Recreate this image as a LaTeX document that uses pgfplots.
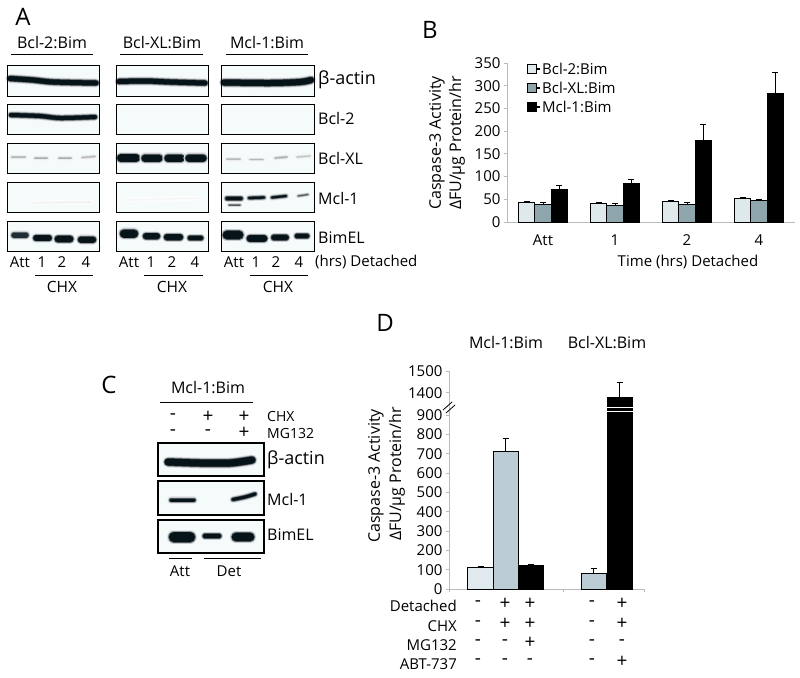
\documentclass[border=0pt]{standalone}
\usepackage{pgfplots}
\pgfplotsset{compat=1.18}
\usepackage{fontspec}
\setmainfont{Open Sans}
\definecolor{blot}{HTML}{06141A}
\definecolor{bg}{HTML}{F5FAFB}
\definecolor{bl}{HTML}{DFE9EC}
\definecolor{bm}{HTML}{8FA5AC}
\definecolor{dl}{HTML}{E0EAEE}
\definecolor{dm}{HTML}{BCCCD4}
\definecolor{ax}{HTML}{B8BCBC}
\newcommand\band[3]{%
 \addplot[forget plot,no marks,smooth,line cap=round,line width=#2pt+4.2pt,color=blot!#3!white!10] coordinates {#1};
 \addplot[forget plot,no marks,smooth,line cap=round,line width=#2pt+3pt,color=blot!#3!white!22] coordinates {#1};
 \addplot[forget plot,no marks,smooth,line cap=round,line width=#2pt+2pt,color=blot!#3!white!42] coordinates {#1};
 \addplot[forget plot,no marks,smooth,line cap=round,line width=#2pt+1pt,color=blot!#3!white!72] coordinates {#1};
 \addplot[forget plot,no marks,smooth,line cap=round,line width=#2pt,color=blot!#3!white] coordinates {#1};
}
\newcommand\fs[1]{\fontsize{#1}{#1}\selectfont}
\newcommand\T[4][15]{\node[inner sep=0pt,font=\fs{#1}] at (#2,#3) {#4};}
\newcommand\TL[4][15]{\node[inner sep=0pt,anchor=west,font=\fs{#1}] at (#2,#3) {#4};}
\newcommand\TR[4][15]{\node[inner sep=0pt,anchor=east,font=\fs{#1}] at (#2,#3) {#4};}
\newcommand\PM[3]{\node[inner sep=0pt,font=\fs{19}] at (#1,#2) {#3};}
\pgfplotsset{chart/.style={
  scale only axis,axis line style={-,ax,line width=0.8pt},tick style={ax,line width=0.8pt},
  tick align=outside,major tick length=3pt,minor tick length=3pt,
  /pgf/number format/assume math mode=true,
  tick label style={font=\fs{15}},
  every axis plot/.append style={line width=0.8pt,draw=black},
  /pgf/number format/1000 sep={},
  error bars/error bar style={black,line width=0.9pt},
  error bars/error mark options={rotate=90,mark size=3pt,black,line width=0.9pt},
}}
\begin{document}
\begin{tikzpicture}[x=1pt,y=-1pt]
\useasboundingbox (0,0) rectangle (800,677);
% blot backgrounds
\foreach \a/\b in {7/99,116/208,221/314}{\foreach \c/\d in {66/96,104/134,143/173,182/212,221/251}{\fill[bg] (\a,\c) rectangle (\b,\d);}}
\foreach \c/\d in {443/476,481/515,520/553}{\fill[bg] (158,\c) rectangle (264,\d);}
% bands
\begin{axis}[hide axis,scale only axis,width=800pt,height=677pt,at={(0pt,-677pt)},anchor=south west,
  xmin=0,xmax=800,ymin=0,ymax=677,y dir=reverse,clip=false]
% actin
\band{(10,78.5)(33,80)(53,82)(96,83)}{5}{100}
\band{(119,81.5)(145,81)(170,82)(205,83)}{5}{100}
\band{(224,82.5)(270,83)(300,82)(311,80)}{6}{100}
% Bcl-2
\band{(11,115)(40,116)(60,118)(95,117)}{4}{100}
% Bcl-XL faint
\band{(12,157)(25,157)}{0.8}{35}
\band{(35,158)(47,158)}{0.8}{38}
\band{(59,158)(71,158)}{0.8}{38}
\band{(82,157.5)(95,156.5)}{0.8}{30}
\band{(121,158)(136,158)}{7.5}{100}
\band{(145,158)(159,158)}{7}{100}
\band{(168,158)(181,158)}{7}{100}
\band{(189,158)(203,158)}{7}{100}
\band{(227,159)(240,159)}{0.8}{32}
\band{(250,159.5)(263,159.5)}{0.8}{30}
\band{(275,158)(287,157)}{0.8}{35}
\band{(297,157)(310,156)}{0.8}{25}
% Mcl-1 faint
\band{(33,203)(91,202)}{0.8}{6}
\band{(126,200)(199,198)}{0.8}{4}
% Mcl-1 strong
\band{(227,198.5)(241,198.5)}{3.5}{100}
\band{(229,205)(240,205)}{0.5}{75}
\band{(249,198)(264,197.5)}{2.3}{100}
\band{(272,197.5)(286,196)}{2}{100}
\band{(298,196)(308,194.5)}{0.4}{80}
% BimEL
\band{(14,235)(26,235)}{5}{90}
\band{(36,238)(49,238)}{5.5}{100}
\band{(58,239)(70,239)}{6.5}{100}
\band{(81,239.5)(93,239.5)}{6}{100}
\band{(124,233.5)(134,233.5)}{8}{100}
\band{(146,236)(157,236)}{6}{100}
\band{(167,237)(180,237)}{6}{100}
\band{(190,238)(201,238)}{4.5}{100}
\band{(227,235)(239,235)}{8.5}{100}
\band{(250,238.5)(264,238.5)}{6.5}{100}
\band{(274,237.5)(286,237.5)}{5.5}{100}
\band{(297,236)(307,236)}{4.5}{100}
% panel C
\band{(168,462)(200,463)(230,463)(252,460)}{7}{100}
\band{(171,500)(194,500)}{3}{100}
\band{(233,499.5)(245,497)(255,494)}{3}{100}
\band{(174,537)(190,537)}{10}{100}
\band{(205,536)(219,536)}{4.5}{100}
\band{(236,537)(250,537)}{8.5}{100}
\end{axis}
% frames
\foreach \a/\b in {7/99,116/208,221/314}{\foreach \c/\d in {66/96,104/134,143/173,182/212,221/251}{\draw[line width=1pt] (\a,\c) rectangle (\b,\d);}}
\foreach \c/\d in {443/476,481/515,520/553}{\draw[line width=1.4pt] (158,\c) rectangle (264,\d);}
% panel A text
\T[24]{23}{17}{A}
\T[16]{52}{43}{Bcl-2:Bim}\T[16]{162}{43}{Bcl-XL:Bim}\T[16]{267}{43}{Mcl-1:Bim}
\foreach \a/\b in {11/93,120/203,226/308}{\draw[line width=0.9pt] (\a,54) -- (\b,54);}
\TL[18]{318}{80}{β-actin}
\TL[16]{318}{118}{Bcl-2}\TL[16]{318}{158}{Bcl-XL}\TL[16]{318}{198}{Mcl-1}\TL[16]{318}{238}{BimEL}
\foreach \x/\s in {20/Att,42/1,62/2,86/4,129/Att,151/1,172/2,195/4,234/Att,256/1,276/2,299/4}{\T{\x}{262}{\s}}
\TL{315}{262}{(hrs) Detached}
\foreach \a/\b in {35/93,144/203,250/308}{\draw[line width=0.9pt] (\a,275) -- (\b,275);}
\T[15.5]{62}{287}{CHX}\T[15.5]{172}{287}{CHX}\T[15.5]{278}{287}{CHX}
% panel C text
\T[24]{109}{385}{C}
\T[16]{208}{388}{Mcl-1:Bim}
\draw[line width=0.9pt] (160,402) -- (253,402);
\foreach \x/\s in {173/-,208/+,244/+}{\PM{\x}{417}{\s}}
\foreach \x/\s in {173/-,208/-,244/+}{\PM{\x}{433}{\s}}
\TL[14]{267}{416}{CHX}\TL[14]{267}{433}{MG132}
\TL[18]{267}{460}{β-actin}\TL[16]{267}{499}{Mcl-1}\TL[16]{267}{535}{BimEL}
\draw[line width=0.9pt] (169,558) -- (192,558);
\draw[line width=0.9pt] (204,558) -- (261,558);
\T{180}{571}{Att}\T{229}{571}{Det}
% panel B
\T[24]{430}{30}{B}
\begin{axis}[chart,at={(507pt,-222pt)},anchor=south west,width=288pt,height=159pt,
  xmin=0,xmax=4,ymin=0,ymax=350,axis x line*=bottom,axis y line*=left,
  ybar=0pt,bar width=16.3pt,
  xtick={0.5,1.5,2.5,3.5},xticklabels={Att,1,2,4},
  xticklabel style={yshift=-6pt},
  x tick style={draw=none},minor xtick={0,1,2,3,4},minor x tick style={ax,line width=0.8pt},
  ytick={0,50,...,350},
  legend style={draw=none,fill=none,at={(0.07,1.015)},anchor=north west,font=\fs{15},
    row sep=2pt,inner sep=0pt,cells={anchor=west}},
  legend cell align=left,
  legend image code/.code={\path (0pt,0pt) rectangle (12pt,1pt);\draw[#1,line width=0.8pt] (0pt,-4.5pt) rectangle (9pt,4.5pt);},
  ]
\addplot[fill=bl,error bars/.cd,y dir=plus,y explicit] coordinates {(0.5,44) +- (0,2) (1.5,41) +- (0,3) (2.5,45) +- (0,2) (3.5,52) +- (0,1)};
\addplot[fill=bm,error bars/.cd,y dir=plus,y explicit] coordinates {(0.5,38) +- (0,4) (1.5,36) +- (0,5) (2.5,39) +- (0,5) (3.5,48) +- (0,2)};
\addplot[fill=black,error bars/.cd,y dir=plus,y explicit] coordinates {(0.5,72) +- (0,9) (1.5,84) +- (0,10) (2.5,179) +- (0,36) (3.5,282) +- (0,47)};
\legend{Bcl-2:Bim,Bcl-XL:Bim,Mcl-1:Bim}
\end{axis}
\node[inner sep=0pt,rotate=90,font=\fs{16}] at (437,143) {Caspase-3 Activity};
\node[inner sep=0pt,rotate=90,font=\fs{16}] at (457,143) {ΔFU/µg Protein/hr};
\T{688}{262}{Time (hrs) Detached}
% panel D
\T[24]{385}{323}{D}
\T[16]{506}{343}{Mcl-1:Bim}\T[16]{607}{343}{Bcl-XL:Bim}
\begin{axis}[chart,at={(449pt,-589pt)},anchor=south west,width=195pt,height=180pt,
  xmin=-0.245,xmax=7.46,ymin=0,ymax=931,axis x line*=bottom,axis y line*=left,
  ybar,bar width=25.3pt,
  xtick={-0.245,4.26,7.46},xticklabels={},
  ytick={0,100,...,900}]
\addplot[bar shift=0pt,fill=dl,error bars/.cd,y dir=plus,y explicit] coordinates {(1,110) +- (0,8)};
\addplot[bar shift=0pt,fill=dm,error bars/.cd,y dir=plus,y explicit] coordinates {(2,710) +- (0,70)};
\addplot[bar shift=0pt,fill=black,error bars/.cd,y dir=plus,y explicit] coordinates {(3,122) +- (0,3)};
\addplot[bar shift=0pt,fill=dm,error bars/.cd,y dir=plus,y explicit] coordinates {(5.47,80) +- (0,28)};
\addplot[bar shift=0pt,fill=black] coordinates {(6.5,1380)};
\end{axis}
\begin{axis}[chart,at={(449pt,-409pt)},anchor=south west,width=195pt,height=38pt,
  xmin=-0.245,xmax=7.46,ymin=1325,ymax=1500,axis y line*=left,axis x line=none,
  ybar,bar width=25.3pt,ytick={1400,1500},clip=false]
\addplot[bar shift=0pt,fill=black,error bars/.cd,y dir=plus,y explicit] coordinates {(6.5,1380) +- (0,65)};
\end{axis}
\draw[white,line width=1.3pt] (580.7,407.5) -- (633.7,407.5);
\draw[white,line width=1.3pt] (580.7,411.3) -- (633.7,411.3);
\draw[line width=0.8pt] (443,410) -- (452,402);
\draw[line width=0.8pt] (446,413) -- (455,405);
\node[inner sep=0pt,rotate=90,font=\fs{16}] at (376,476) {Caspase-3 Activity};
\node[inner sep=0pt,rotate=90,font=\fs{16}] at (397,474) {ΔFU/µg Protein/hr};
\TR{457}{606}{Detached}\TR{457}{626}{CHX}\TR{457}{645}{MG132}\TR{457}{664}{ABT-737}
\foreach \x/\s in {478/-,505/+,530/+,592/-,622/+}{\PM{\x}{604}{\s}}
\foreach \x/\s in {478/-,505/+,530/+,592/-,622/+}{\PM{\x}{624}{\s}}
\foreach \x/\s in {478/-,505/-,530/+,592/-,622/-}{\PM{\x}{643}{\s}}
\foreach \x/\s in {478/-,505/-,530/-,592/-,622/+}{\PM{\x}{662}{\s}}
\end{tikzpicture}
\end{document}
